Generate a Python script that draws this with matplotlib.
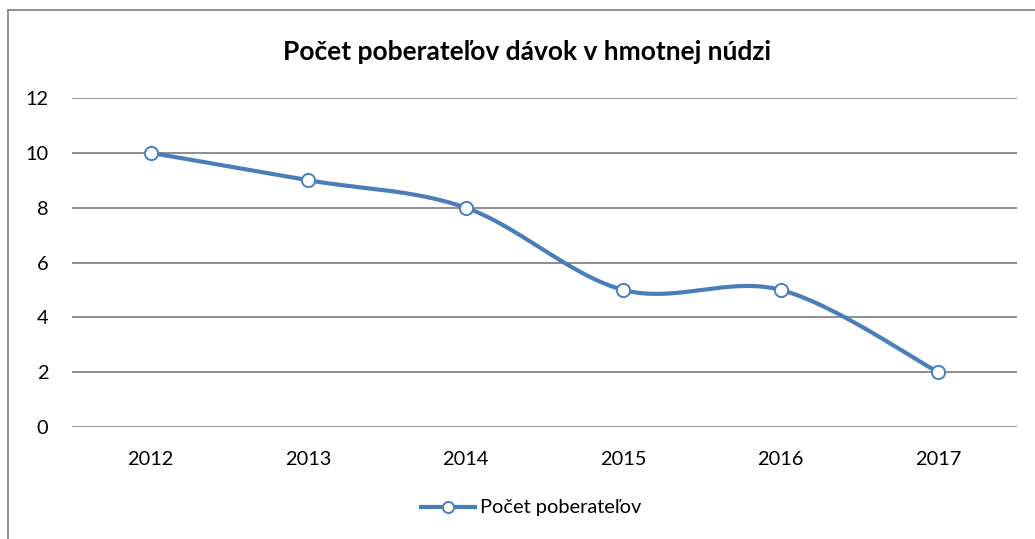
import numpy as np
import matplotlib
matplotlib.use("Agg")
import matplotlib.pyplot as plt
from matplotlib.lines import Line2D

years = ["2012", "2013", "2014", "2015", "2016", "2017"]
counts = [10, 9, 8, 5, 5, 2]
title = "Počet poberateľov dávok v hmotnej núdzi"
series_name = "Počet poberateľov"
y_ticks = [0, 2, 4, 6, 8, 10, 12]

BLUE = "#4a7ebb"
GRID = "#868686"
W, H, DPI = 1035, 539, 100

plt.rcParams["font.family"] = ["Lato", "DejaVu Sans"]


def smooth(xs, ys, n=40):
    """Excel-like smoothed line: Catmull-Rom control points on a cubic Bezier."""
    xs = np.asarray(xs, float)
    ys = np.asarray(ys, float)
    pts = np.column_stack([xs, ys])
    out = []
    for i in range(len(pts) - 1):
        p0 = pts[max(i - 1, 0)]
        p1 = pts[i]
        p2 = pts[i + 1]
        p3 = pts[min(i + 2, len(pts) - 1)]
        c1 = p1 + (p2 - p0) / 6.0
        c2 = p2 - (p3 - p1) / 6.0
        t = np.linspace(0, 1, n)[:, None]
        seg = ((1 - t) ** 3 * p1 + 3 * (1 - t) ** 2 * t * c1
               + 3 * (1 - t) * t ** 2 * c2 + t ** 3 * p2)
        out.append(seg if i == 0 else seg[1:])
    out = np.vstack(out)
    return out[:, 0], out[:, 1]


fig = plt.figure(figsize=(W / DPI, H / DPI), dpi=DPI)
# plot area in pixels: x 72..1017, y 98..427 (top-down)
ax = fig.add_axes([72 / W, 1 - 427 / H, (1017 - 72) / W, (427 - 98) / H])

x = np.arange(len(years))
sx, sy = smooth(x, counts)
ax.plot(sx, sy, color=BLUE, linewidth=3, solid_capstyle="round", zorder=3)
ax.plot(x, counts, linestyle="none", marker="o", markersize=9.5,
        markerfacecolor="white", markeredgecolor=BLUE, markeredgewidth=1.4,
        zorder=4)

ax.set_xlim(-0.5, len(years) - 0.5)
ax.set_ylim(0, 12)
ax.set_yticks(y_ticks)
ax.set_xticks(x)
ax.set_xticklabels(years)
ax.yaxis.grid(True, color=GRID, linewidth=1.3)
ax.set_axisbelow(True)
for s in ax.spines.values():
    s.set_visible(False)
ax.tick_params(length=0, labelsize=14.4, colors="black")
ax.tick_params(axis="y", pad=17)
ax.tick_params(axis="x", pad=17)

fig.text(527 / W, 1 - 52 / H, title, ha="center", va="center",
         fontsize=19, fontweight="bold")

handle = Line2D([], [], color=BLUE, linewidth=3, marker="o", markersize=8,
                markerfacecolor="white", markeredgecolor=BLUE,
                markeredgewidth=1.4)
fig.legend([handle], [series_name], loc="center",
           bbox_to_anchor=(531 / W, 1 - 508 / H), frameon=False,
           fontsize=14.4, handlelength=2.7, handletextpad=0.25)

# chart border (only top and left edges visible in the crop)
fig.add_artist(Line2D([8 / W, 8 / W], [0, 1 - 10 / H], color=GRID,
                      linewidth=1.3, transform=fig.transFigure))
fig.add_artist(Line2D([8 / W, 1], [1 - 10 / H, 1 - 10 / H], color=GRID,
                      linewidth=1.3, transform=fig.transFigure))

fig.savefig("out.png", dpi=DPI, facecolor="white")
